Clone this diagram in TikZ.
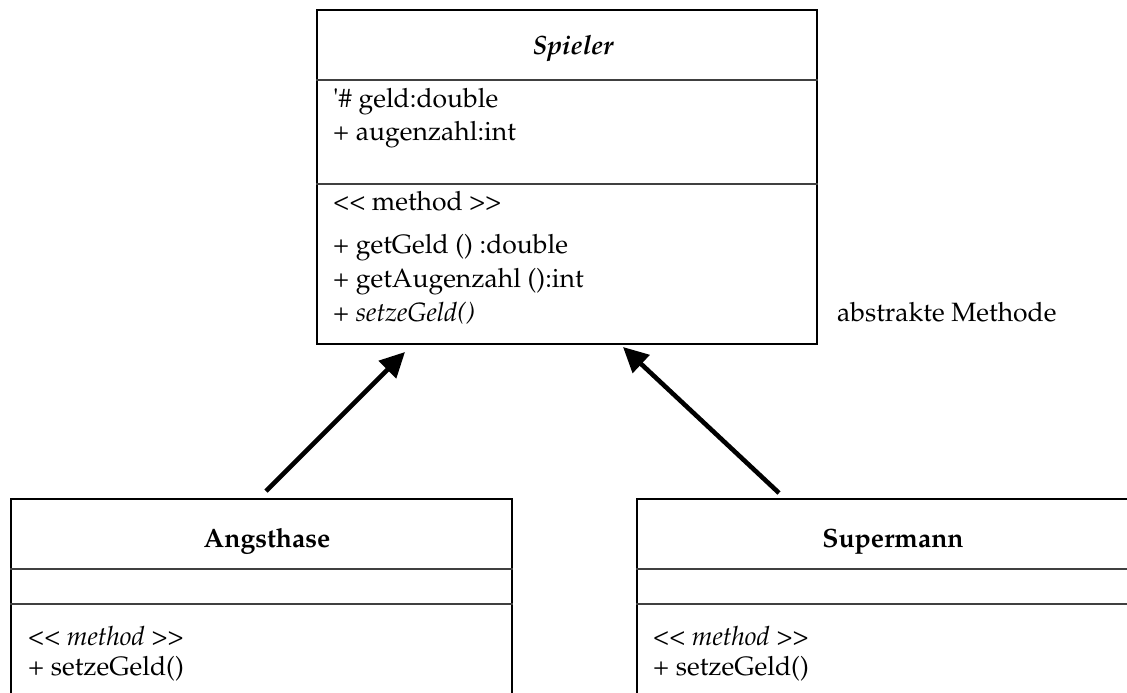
\documentclass[tikz,border=0pt]{standalone}
\usepackage[T1]{fontenc}
\usepackage{mathpazo}
\usetikzlibrary{arrows.meta}
% two separate less-than / greater-than signs, no guillemet ligature
\newcommand{\stereoopen}{\mbox{<}\kern0pt\mbox{<}}
\newcommand{\stereoclose}{\mbox{>}\kern0pt\mbox{>}}
\begin{document}
\begin{tikzpicture}[x=1pt,y=-1pt,
  classbox/.style={draw=black, line width=2.2pt, anchor=north west, inner sep=0pt},
  sepline/.style={draw=black!75, line width=1.4pt},
  member/.style={anchor=base west, inner sep=0pt, font=\fontsize{26.5}{32}\selectfont},
  classname/.style={anchor=base, inner sep=0pt, font=\fontsize{26.5}{32}\selectfont\bfseries},
  inherit/.style={line width=4.6pt, -{Triangle[length=25pt,width=24pt]}}]
\clip (0,0) rectangle (1127,693);
\fill[white] (0,0) rectangle (1127,693);

% abstract base class
\node[classbox, minimum width=500pt, minimum height=334pt] (spieler) at (316,9) {};
\draw[sepline] (spieler.west |- 0,80) -- (spieler.east |- 0,80);
\draw[sepline] (spieler.west |- 0,184) -- (spieler.east |- 0,184);
\node[classname] (spname) at (573,55) {\itshape Spieler};
\node[member] (spa1) at (333,107) {\textquotesingle\# geld:double};
\node[member] (spa2) at (333,140) {+ augenzahl:int};
\node[member] (spm0) at (333,210) {\stereoopen{} method \stereoclose};
\node[member] (spm1) at (333,253) {+ getGeld () :double};
\node[member] (spm2) at (333,287) {+ getAugenzahl ():int};
\node[member] (spm3) at (333,321) {+ \textit{setzeGeld()}};
\node[member] (note) at (837,321) {abstrakte Methode};

% subclass Angsthase
\node[classbox, minimum width=501pt, minimum height=240pt] (angst) at (10,498) {};
\draw[sepline] (angst.west |- 0,569) -- (angst.east |- 0,569);
\draw[sepline] (angst.west |- 0,604) -- (angst.east |- 0,604);
\node[classname] (anname) at (267,547) {Angsthase};
\node[member] (anm0) at (28,645) {\itshape\stereoopen{} method \stereoclose};
\node[member] (anm1) at (28,675) {+ setzeGeld()};

% subclass Supermann
\node[classbox, minimum width=520pt, minimum height=240pt] (super) at (636,498) {};
\draw[sepline] (super.west |- 0,569) -- (super.east |- 0,569);
\draw[sepline] (super.west |- 0,604) -- (super.east |- 0,604);
\node[classname] (suname) at (893,547) {Supermann};
\node[member] (sum0) at (653,645) {\itshape\stereoopen{} method \stereoclose};
\node[member] (sum1) at (653,675) {+ setzeGeld()};

% generalisation arrows
\coordinate (anFrom) at (266,491);
\coordinate (anTo) at (405,352);
\coordinate (suFrom) at (779,493);
\coordinate (suTo) at (623,347);
\draw[inherit] (anFrom) -- (anTo);
\draw[inherit] (suFrom) -- (suTo);
\end{tikzpicture}
\end{document}
